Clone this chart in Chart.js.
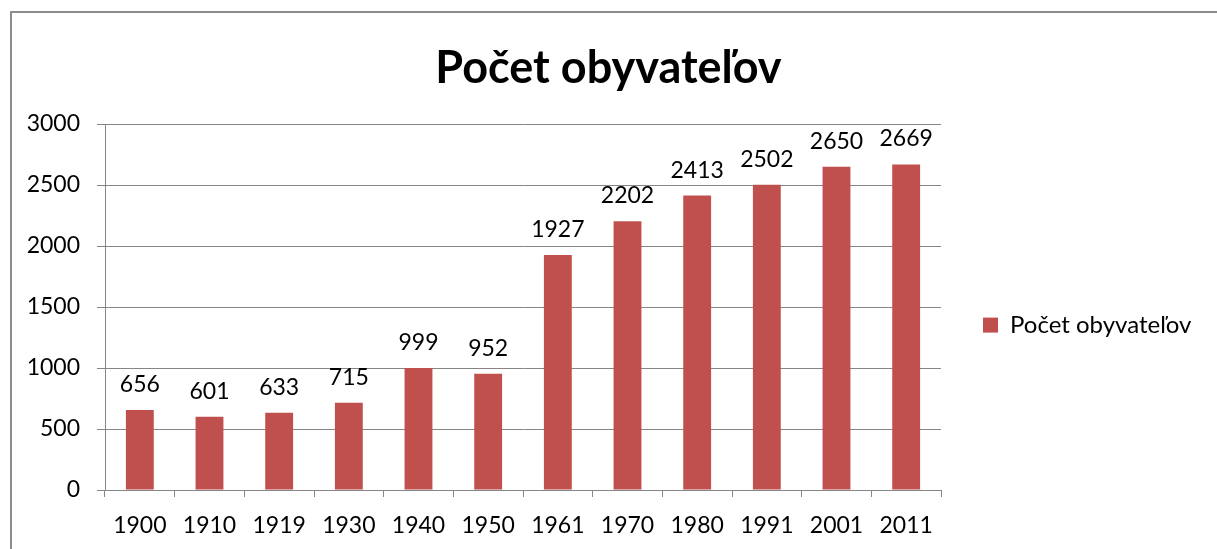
<!DOCTYPE html>
<html lang="sk">
<head>
    <meta charset="UTF-8">
    <title>Počet obyvateľov</title>
    <script src="https://cdn.jsdelivr.net/npm/chart.js"></script>
    <style>
        body {
            margin: 0;
            background: #fff;
            overflow: hidden;
            width: 1217px;
            height: 549px;
        }

        .frame {
            position: absolute;
            left: 10px;
            top: 11px;
            width: 1230px;
            height: 560px;
            border: 2px solid #8c8c8c;
        }

        canvas {
            position: absolute;
            left: 0;
            top: 0;
        }
    </style>
</head>
<body>
    <div class="frame"></div>
    <canvas id="chart" width="1217" height="549"></canvas>

    <script>
        // údaje
        const roky = ["1900", "1910", "1919", "1930", "1940", "1950", "1961", "1970", "1980", "1991", "2001", "2011"];
        const obyvatelia = [656, 601, 633, 715, 999, 952, 1927, 2202, 2413, 2502, 2650, 2669];
        const nazovRady = "Počet obyvateľov";
        const nadpis = "Počet obyvateľov";

        const FONT = "Lato, 'Liberation Sans', sans-serif";
        const GRID = "#868686";

        // popisky hodnôt nad stĺpcami
        const hodnotyNadStlpcami = {
            id: "hodnotyNadStlpcami",
            afterDatasetsDraw(chart) {
                const c = chart.ctx;
                const meta = chart.getDatasetMeta(0);
                c.save();
                c.font = "23px " + FONT;
                c.fillStyle = "#000";
                c.textAlign = "center";
                c.textBaseline = "alphabetic";
                meta.data.forEach((bar, i) => {
                    c.fillText(String(obyvatelia[i]), bar.x, bar.y - 18);
                });
                c.restore();
            }
        };

        // pevná šírka legendy vpravo
        const sirkaLegendy = {
            id: "sirkaLegendy",
            afterInit(chart) {
                const lg = chart.legend;
                if (!lg) return;
                const fit = lg.fit;
                lg.fit = function () {
                    fit.call(this);
                    this.width = 276;
                };
            }
        };

        new Chart(document.getElementById("chart"), {
            type: "bar",
            data: {
                labels: roky,
                datasets: [{
                    label: nazovRady,
                    data: obyvatelia,
                    backgroundColor: "#C0504D",
                    borderWidth: 0,
                    barPercentage: 0.4,
                    categoryPercentage: 1.0
                }]
            },
            options: {
                responsive: false,
                animation: false,
                layout: { padding: { left: 0, right: 0, top: 0, bottom: 0 } },
                plugins: {
                    title: {
                        display: true,
                        text: nadpis,
                        color: "#000",
                        font: { family: FONT, size: 45, weight: "bold" },
                        padding: { top: 41, bottom: 29 }
                    },
                    legend: {
                        position: "right",
                        align: "center",
                        title: {
                            display: true,
                            text: "",
                            font: { size: 1 },
                            padding: { top: 0, bottom: 100 }
                        },
                        labels: {
                            color: "#000",
                            font: { family: FONT, size: 24 },
                            boxWidth: 15,
                            boxHeight: 15,
                            padding: 42
                        }
                    },
                    tooltip: { enabled: false }
                },
                scales: {
                    x: {
                        grid: {
                            offset: true,
                            drawOnChartArea: false,
                            drawTicks: true,
                            tickLength: 7,
                            color: GRID
                        },
                        border: { color: GRID, width: 1 },
                        ticks: {
                            color: "#000",
                            font: { family: FONT, size: 23 },
                            padding: 15,
                            maxRotation: 0
                        },
                        afterFit(scale) { scale.height = 59; }
                    },
                    y: {
                        min: 0,
                        max: 3000,
                        ticks: {
                            stepSize: 500,
                            color: "#000",
                            font: { family: FONT, size: 23 },
                            padding: 17,
                            callback: (v) => String(v)
                        },
                        grid: {
                            color: GRID,
                            tickLength: 8
                        },
                        border: { color: GRID, width: 1 },
                        afterFit(scale) { scale.width = 105; }
                    }
                }
            },
            plugins: [hodnotyNadStlpcami, sirkaLegendy]
        });
    </script>
</body>
</html>
